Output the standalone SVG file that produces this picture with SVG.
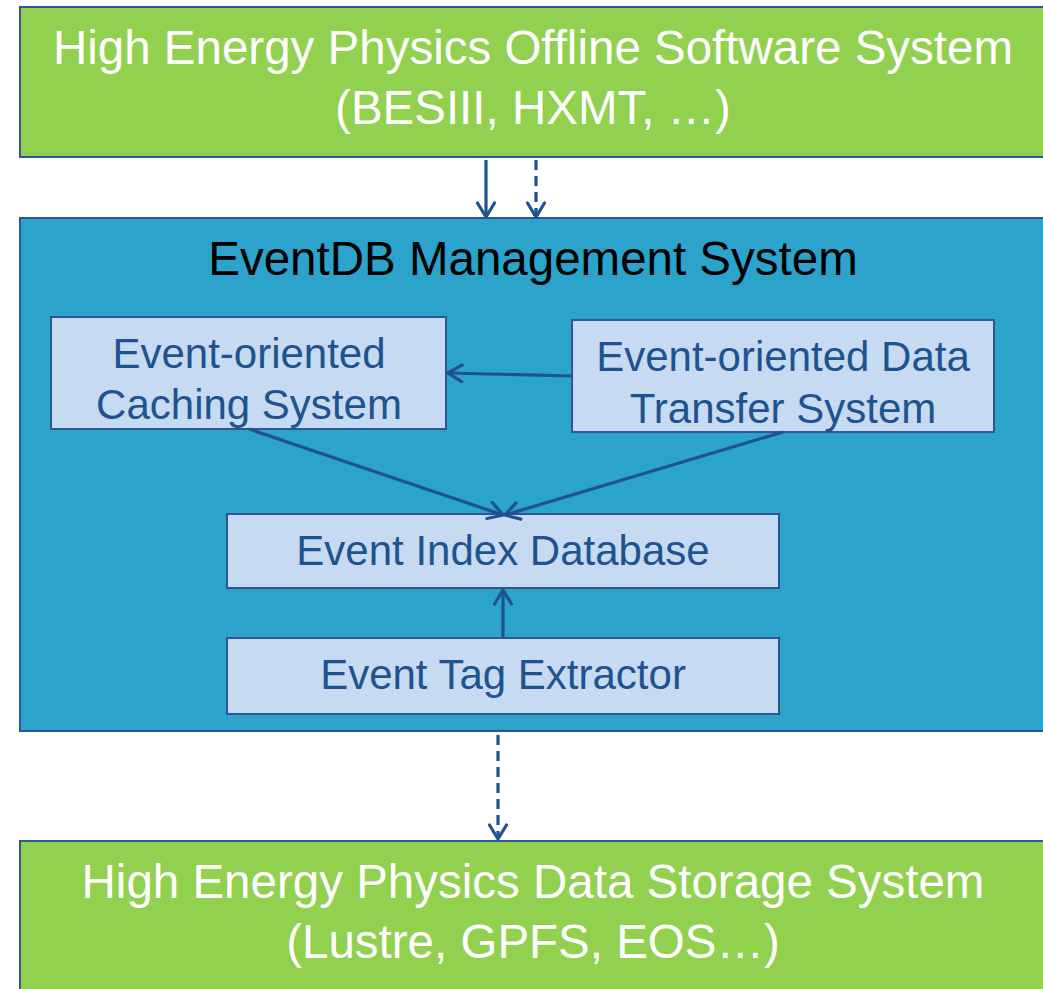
<svg xmlns="http://www.w3.org/2000/svg" width="1043" height="989" viewBox="0 0 1043 989">
<style>
.green{fill:#92D050;stroke:#2F5597;stroke-width:2}
.blue{fill:#2CA3CA;stroke:#2F5597;stroke-width:2}
.inner{fill:#C6DAF1;stroke:#2F5597;stroke-width:2}
text{font-family:"Liberation Sans",Arial,sans-serif;text-anchor:middle}
.big{font-size:47.5px;fill:#FFFFFF}
.title{font-size:47.5px;fill:#000000}
.lbl{font-size:42px;fill:#1F538F}
.conn{stroke:#1F538F;stroke-width:3.2;fill:none}
.dash{stroke-dasharray:10,6}
</style>
<defs>
<marker id="arr" markerUnits="userSpaceOnUse" markerWidth="26" markerHeight="26" refX="16" refY="10" orient="auto">
<path d="M2,1.5 L16,10 L2,18.5" fill="none" stroke="#1F538F" stroke-width="3.2" stroke-linecap="round" stroke-linejoin="round"/>
</marker>
</defs>
<g id="offline">
<rect class="green" x="20" y="7" width="1030" height="150"/>
<text class="big" x="533" y="64">High Energy Physics Offline Software System</text>
<text class="big" x="533" y="124">(BESIII, HXMT, …)</text>
</g>
<g id="eventdb">
<rect class="blue" x="20" y="218" width="1030" height="513"/>
<text class="title" x="533" y="275">EventDB Management System</text>
</g>
<g id="caching">
<rect class="inner" x="51" y="317" width="395" height="112"/>
<text class="lbl" x="249" y="368">Event-oriented</text>
<text class="lbl" x="249" y="419">Caching System</text>
</g>
<g id="transfer">
<rect class="inner" x="572" y="320" width="422" height="112"/>
<text class="lbl" x="783" y="371">Event-oriented Data</text>
<text class="lbl" x="783" y="423">Transfer System</text>
</g>
<g id="index">
<rect class="inner" x="227" y="514" width="552" height="74"/>
<text class="lbl" x="503" y="565">Event Index Database</text>
</g>
<g id="extractor">
<rect class="inner" x="227" y="638" width="552" height="76"/>
<text class="lbl" x="503" y="689">Event Tag Extractor</text>
</g>
<g id="storage">
<rect class="green" x="20" y="841" width="1030" height="160"/>
<text class="big" x="533" y="898">High Energy Physics Data Storage System</text>
<text class="big" x="533" y="958">(Lustre, GPFS, EOS…)</text>
</g>
<g id="connectors">
<line class="conn" x1="486" y1="160" x2="486" y2="217" marker-end="url(#arr)"/>
<line class="conn dash" x1="536" y1="160" x2="536" y2="217" marker-end="url(#arr)"/>
<line class="conn" x1="572" y1="376" x2="448" y2="373" marker-end="url(#arr)"/>
<line class="conn" x1="249" y1="429" x2="503" y2="515" marker-end="url(#arr)"/>
<line class="conn" x1="783" y1="432" x2="505" y2="515" marker-end="url(#arr)"/>
<line class="conn" x1="503" y1="637" x2="503" y2="590" marker-end="url(#arr)"/>
<line class="conn dash" x1="498" y1="735" x2="498" y2="839" marker-end="url(#arr)"/>
</g>
</svg>
